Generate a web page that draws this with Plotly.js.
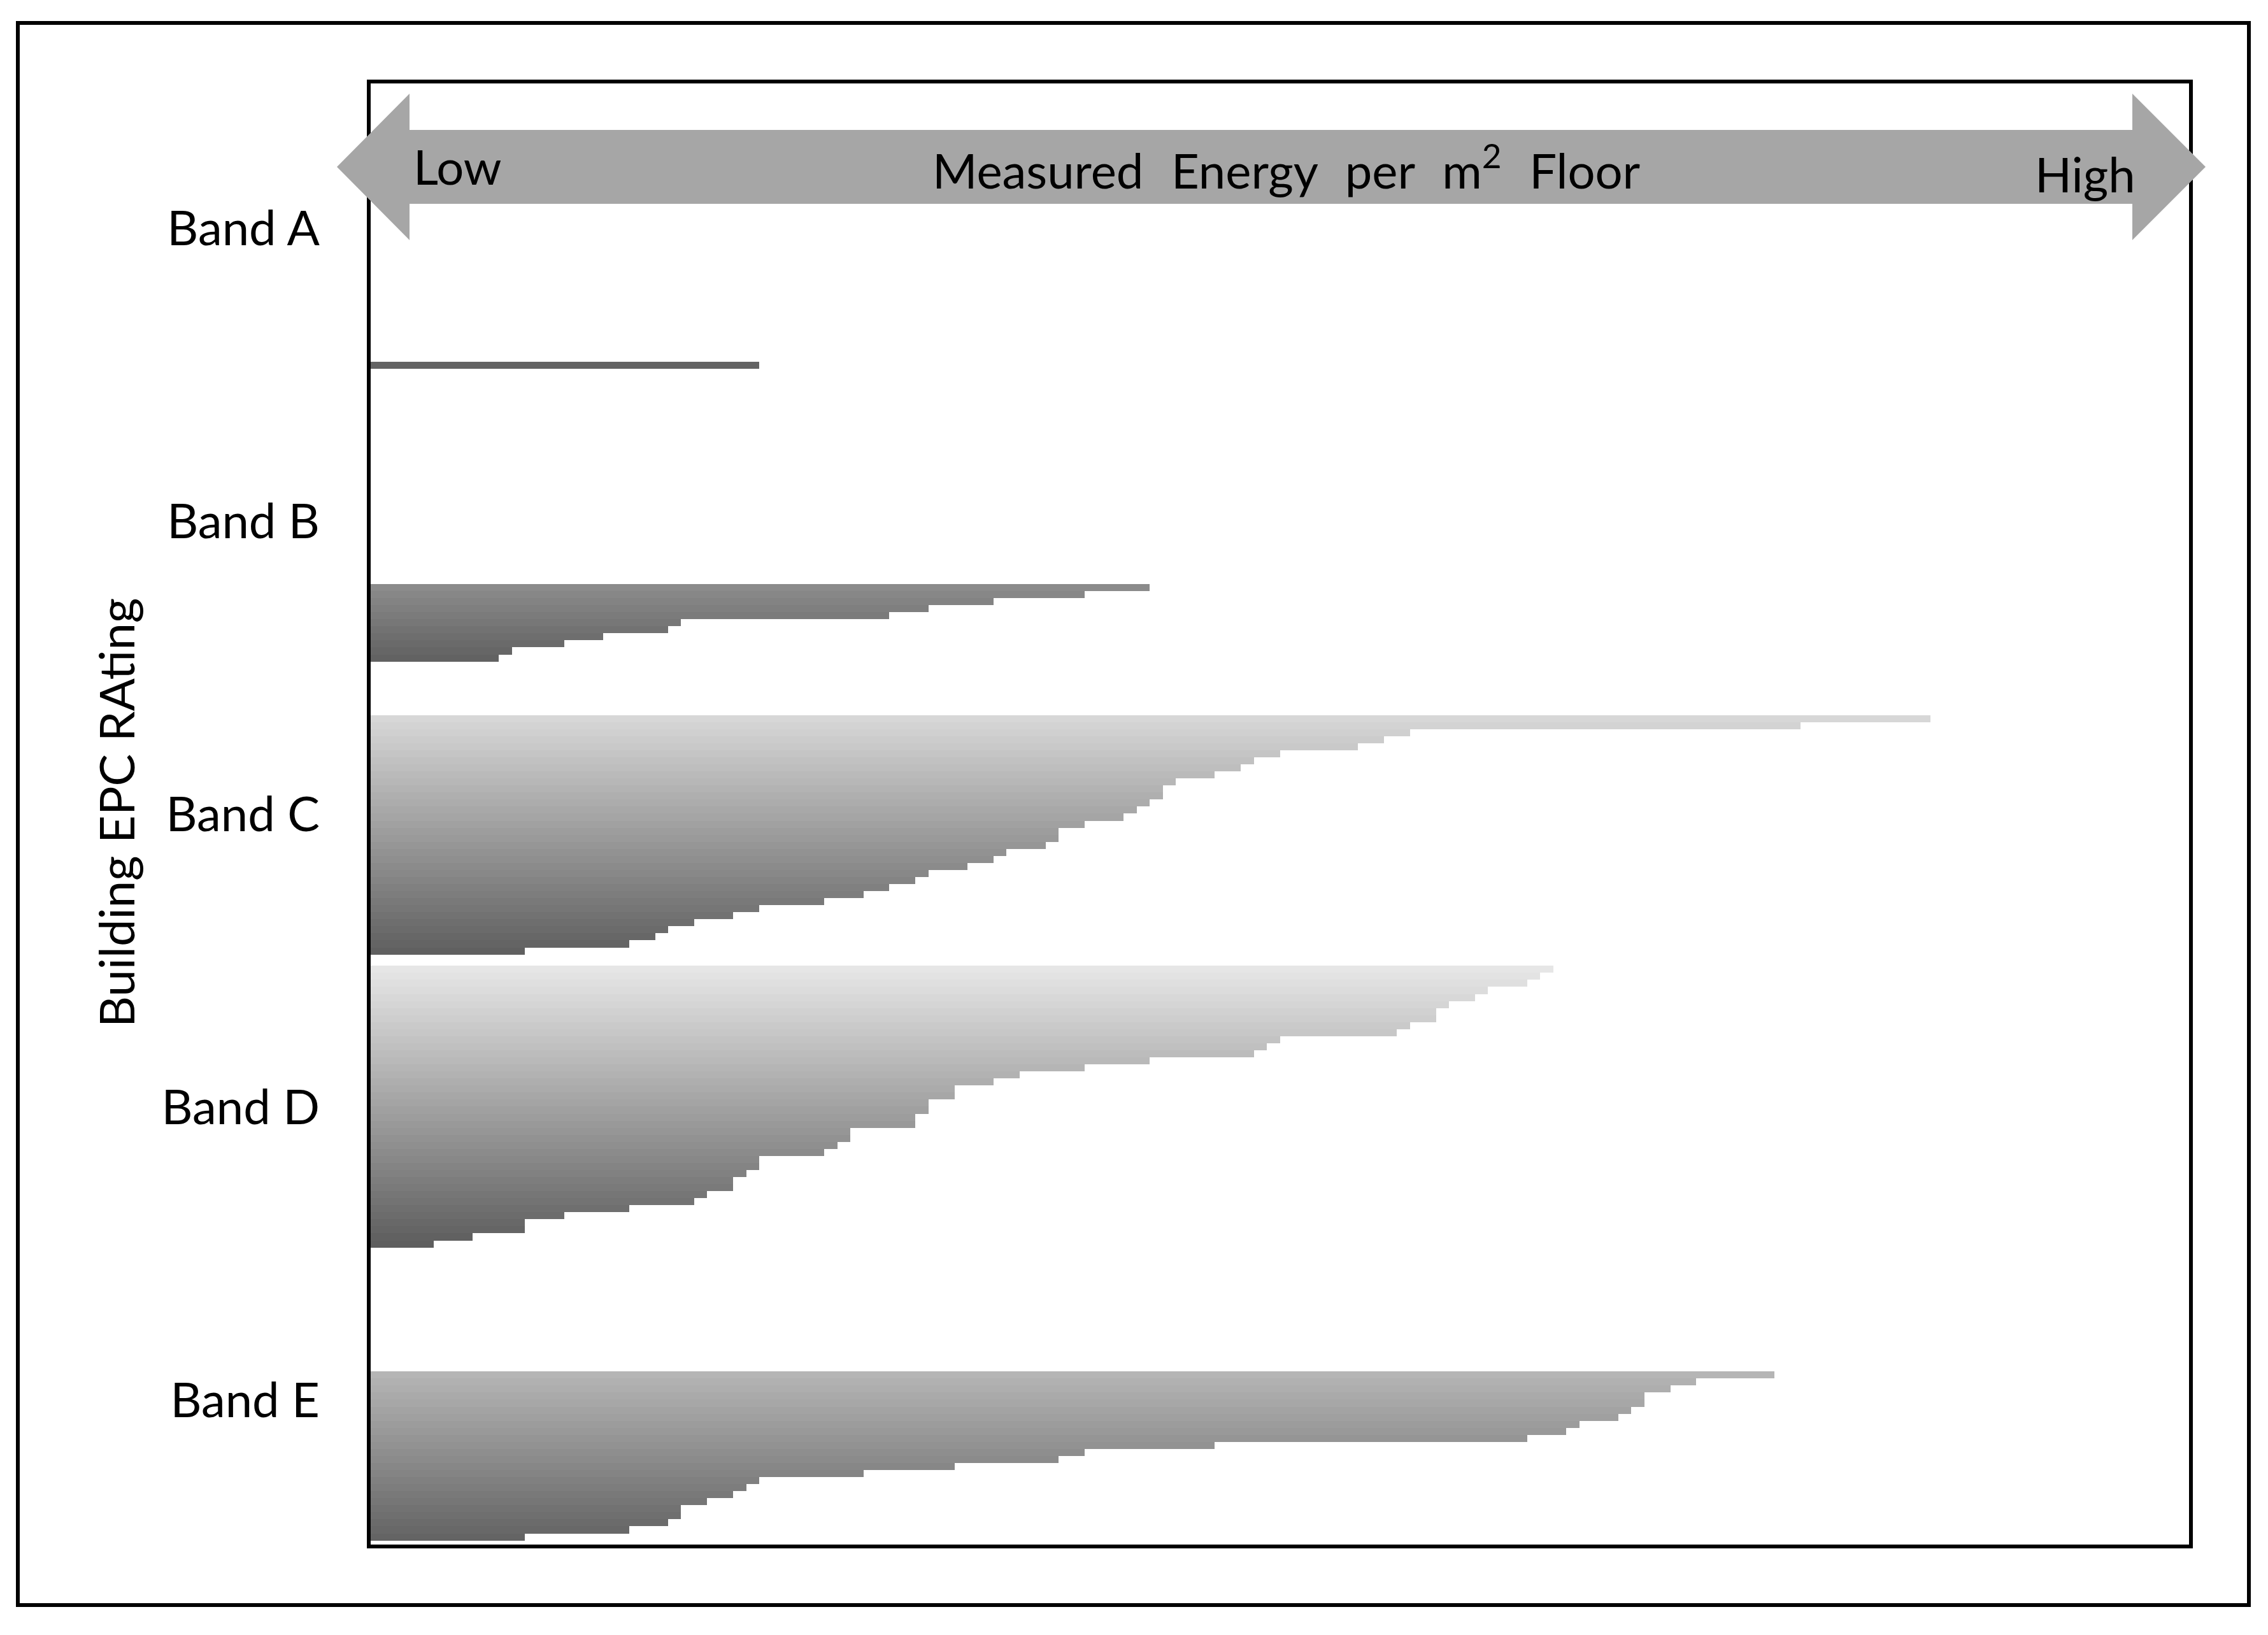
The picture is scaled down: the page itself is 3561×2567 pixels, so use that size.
<!DOCTYPE html>
<html><head><meta charset="utf-8">
<script src="https://cdn.plot.ly/plotly-3.0.1.min.js"></script>
<style>html,body{margin:0;padding:0;background:#fff;} #chart{width:3561px;height:2567px;}</style>
</head><body><div id="chart"></div>
<script>
// ---- data (measured energy per m2 floor, relative units; plot width = 140) ----
const bands = ['Band A', 'Band B', 'Band C', 'Band D', 'Band E'];
const bandA = [30];
const bandB = [60, 55, 48, 43, 40, 24, 23, 18, 15, 11, 10];
const bandC = [120, 110, 80, 78, 76, 70, 68, 67, 65, 62, 61, 61, 60, 59, 58, 55, 53, 53, 52, 49,
               48, 46, 43, 42, 40, 38, 35, 30, 28, 25, 23, 22, 20, 12];
const bandD = [91, 90, 89, 86, 85, 83, 82, 82, 80, 79, 70, 69, 68, 60, 55, 50, 48, 45, 45, 43,
               43, 42, 42, 37, 37, 36, 35, 30, 30, 29, 28, 28, 26, 25, 20, 15, 12, 12, 8, 5];
const bandE = [108, 102, 100, 98, 98, 97, 96, 93, 92, 89, 65, 55, 53, 45, 38, 30, 29, 28, 26, 24,
               24, 23, 20, 12];
const bandValues = [bandA, bandB, bandC, bandD, bandE];

// ---- style: gray level of the top (lightest) and bottom (darkest) bar of each band ----
const shadeTop = [99, 139, 215, 230, 181];
const shadeBottom = [99, 98, 96, 94, 100];

// ---- layout geometry ----
const W = 3561, H = 2567;
const M = {l: 579, r: 121, t: 128, b: 139};
const PW = W - M.l - M.r, PH = H - M.t - M.b;
const X_MAX = 140;          // x axis range
const SLOT_CAT = 41.6;      // y units per band
const Y_MAX = SLOT_CAT * bands.length;
const BOTTOM_GAP = 0.85;    // space under the last bar of each band
const px2x = p => (p - M.l) / PW;
const py2y = p => (H - M.b - p) / PH;

function gray(v) { v = Math.round(v); return 'rgb(' + v + ',' + v + ',' + v + ')'; }

const traces = bandValues.map((vals, k) => {
  const n = vals.length;
  const ys = vals.map((v, j) => (k + 1) * SLOT_CAT - BOTTOM_GAP - (n - 1 - j) - 0.5);
  const cols = vals.map((v, j) => gray(n === 1 ? shadeTop[k] : shadeTop[k] + (shadeBottom[k] - shadeTop[k]) * j / (n - 1)));
  return {
    type: 'bar', orientation: 'h', name: bands[k],
    x: vals, y: ys, width: 1, base: 0,
    marker: {color: cols, line: {width: 0}}, opacity: 1,
    hoverinfo: 'skip', showlegend: false
  };
});

// double-headed arrow (pixel geometry converted to paper coords)
const arrowPts = [[529, 262], [643, 147], [643, 204], [3348, 204], [3348, 147], [3463, 262],
                  [3348, 377], [3348, 320], [643, 320], [643, 377]];
const arrowPath = 'M ' + arrowPts.map(p => px2x(p[0]).toFixed(5) + ',' + py2y(p[1]).toFixed(5)).join(' L ') + ' Z';

const FONT = 'Lato, "Open Sans", "DejaVu Sans", sans-serif';
const FS = 76;
const nb = '\u00a0\u00a0\u200a';

const layout = {
  width: W, height: H,
  margin: M,
  paper_bgcolor: '#ffffff', plot_bgcolor: '#ffffff',
  font: {family: FONT, size: FS, color: '#000000'},
  barmode: 'overlay', bargap: 0, bargroupgap: 0,
  showlegend: false,
  xaxis: {range: [0, X_MAX], showgrid: false, zeroline: false, showline: false,
          showticklabels: false, ticks: '', fixedrange: true},
  yaxis: {range: [Y_MAX, 0], showgrid: false, zeroline: false, showline: false,
          tickmode: 'array', tickvals: bands.map((b, k) => (k + 0.5) * SLOT_CAT), ticktext: bands,
          ticks: '', ticklabelstandoff: 76, tickfont: {family: FONT, size: FS, color: '#000'},
          fixedrange: true},
  shapes: [
    {type: 'rect', xref: 'paper', yref: 'paper', x0: 0, x1: 1, y0: 0, y1: 1,
     line: {color: '#000', width: 6}, layer: 'above'},
    {type: 'rect', xref: 'paper', yref: 'paper', x0: px2x(28), x1: px2x(3531), y0: py2y(2520), y1: py2y(36),
     line: {color: '#000', width: 6}, layer: 'above'},
    {type: 'path', xref: 'paper', yref: 'paper', path: arrowPath,
     fillcolor: '#a6a6a6', line: {width: 0}, layer: 'above'}
  ],
  annotations: [
    {text: 'Low', xref: 'paper', yref: 'paper', x: px2x(647), y: py2y(261),
     xanchor: 'left', yanchor: 'middle', showarrow: false, font: {size: FS}},
    {text: 'High', xref: 'paper', yref: 'paper', x: px2x(3355), y: py2y(273),
     xanchor: 'right', yanchor: 'middle', showarrow: false, font: {size: FS}},
    {text: 'Measured' + nb + 'Energy' + nb + 'per' + nb + 'm<sup>2</sup>' + nb + 'Floor',
     xref: 'paper', yref: 'paper', x: px2x(2020), y: py2y(314),
     xanchor: 'center', yanchor: 'bottom', showarrow: false, font: {size: FS}},
    {text: 'Building EPC RAting', xref: 'paper', yref: 'paper', x: px2x(181), y: py2y(1276),
     xanchor: 'center', yanchor: 'middle', textangle: -90, showarrow: false, font: {size: FS}}
  ]
};

Plotly.newPlot('chart', traces, layout, {staticPlot: true, displayModeBar: false});
</script>
</body></html>
